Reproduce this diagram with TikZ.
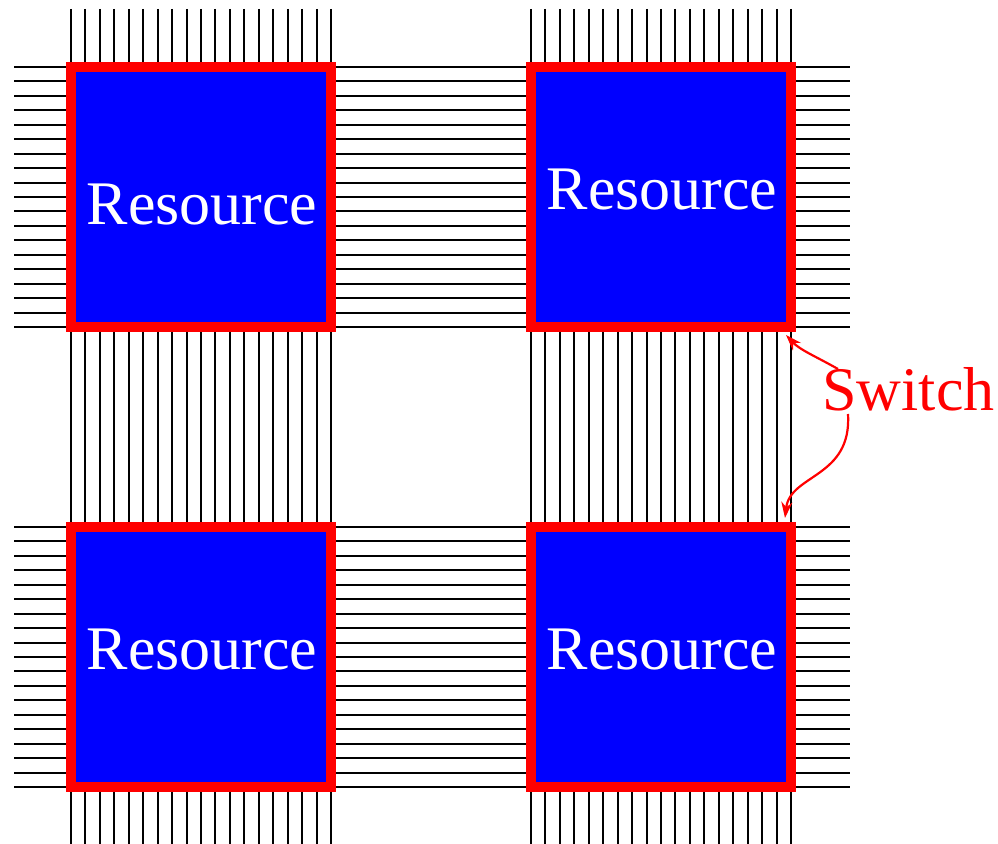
\documentclass[tikz,border=0pt]{standalone}
\usepackage{fontspec}
\setmainfont{Liberation Serif}
\usetikzlibrary{arrows.meta}
\begin{document}
\begin{tikzpicture}[x=0.5pt,y=-0.5pt,line join=miter,>={Stealth[length=8pt,width=5.5pt]}]
	\tikzset{wire/.style={black,line width=1pt},
		resbox/.style={draw=red,fill=blue,line width=5pt,minimum size=130pt,inner sep=0pt},
		restext/.style={white,anchor=base,font=\fontsize{31}{36}\selectfont},
		swtext/.style={red,anchor=base west,font=\fontsize{31}{36}\selectfont},
		swarrow/.style={red,line width=1.1pt,->}}
	\useasboundingbox (0,0) rectangle (998,844);
	% wires
	\foreach \cx in {71,531}
	\foreach \i in {0,...,18}
	\draw[wire] ({\cx+14.444*\i},9)--({\cx+14.444*\i},844);
	\foreach \cy in {67,527}
	\foreach \j in {0,...,18}
	\draw[wire] (14,{\cy+14.444*\j})--(850,{\cy+14.444*\j});
	% resources
	\node[resbox] (tl) at (201,197) {};
	\node[resbox] (tr) at (661,197) {};
	\node[resbox] (bl) at (201,657) {};
	\node[resbox] (br) at (661,657) {};
	\node[restext] (tltext) at (202,225) {Resource};
	\node[restext] (trtext) at (662,210) {Resource};
	\node[restext] (bltext) at (202,670) {Resource};
	\node[restext] (brtext) at (662,670) {Resource};
	% switch
	\node[swtext,inner sep=0pt] (sw) at (822,411) {Switch};
	\coordinate (swtop) at (838,369);
	\coordinate (swbot) at (848,414);
	\draw[swarrow] (swtop) .. controls (815,356) and (800,350) .. ([shift={(-10,3)}]tr.south east);
	\draw[swarrow] (swbot) .. controls (852,478) and (790,474) .. ([shift={(-11,-4)}]br.north east);
\end{tikzpicture}
\end{document}
